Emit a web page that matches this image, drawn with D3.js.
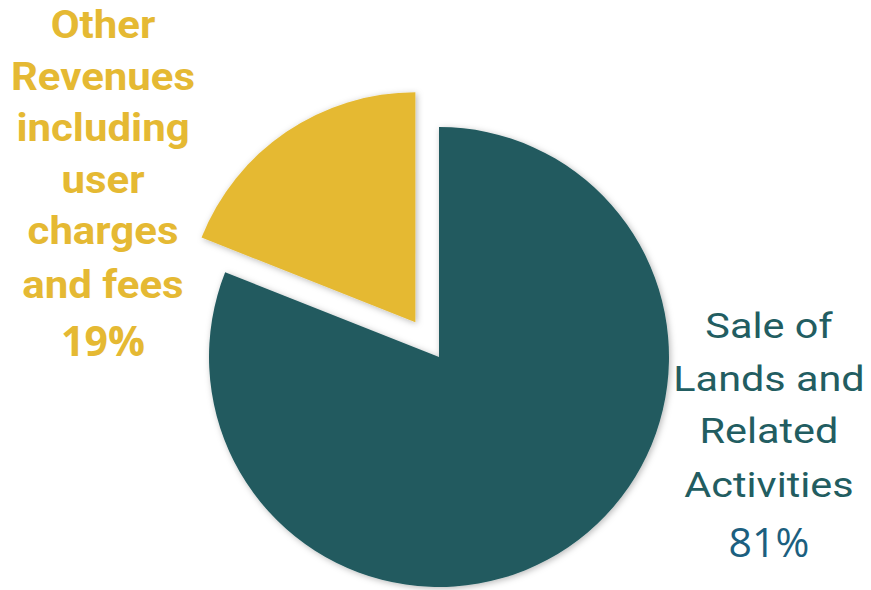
<!DOCTYPE html>
<html>
<head>
<meta charset="utf-8">
<script src="https://cdn.jsdelivr.net/npm/d3@7"></script>
<style>
  html, body { margin: 0; padding: 0; background: #ffffff; }
  svg { display: block; }
</style>
</head>
<body>
<svg id="chart" width="871" height="590"></svg>
<script>
// Revenue shares
const categories = ["Sale of Lands and Related Activities", "Other Revenues including user charges and fees"];
const values = [81, 19];
const percentLabels = ["81%", "19%"];
const labelLines = [
  ["Sale of", "Lands and", "Related", "Activities"],
  ["Other", "Revenues", "including", "user", "charges", "and fees"]
];
const colors = ["#215a5f", "#e5b933"];
const textColors = ["#225d61", "#e5b933"];
const percentColors = ["#1c5f7f", "#e5b933"];

const svg = d3.select("#chart");
const cx = 439, cy = 357, radius = 230, explode = 42;

const defs = svg.append("defs");
const f = defs.append("filter").attr("id", "shadow")
  .attr("x", "-20%").attr("y", "-20%").attr("width", "140%").attr("height", "140%");
f.append("feDropShadow").attr("dx", 1.5).attr("dy", 1.5).attr("stdDeviation", 3)
  .attr("flood-color", "#000").attr("flood-opacity", 0.28);

const pie = d3.pie().sort(null).value(d => d)(values);
const arc = d3.arc().innerRadius(0).outerRadius(radius);

const g = svg.append("g").attr("transform", `translate(${cx},${cy})`);
g.selectAll("path").data(pie).join("path")
  .attr("d", arc)
  .attr("fill", (d, i) => colors[i])
  .attr("filter", "url(#shadow)")
  .attr("transform", (d, i) => {
    if (i !== 1) return null;
    const a = (d.startAngle + d.endAngle) / 2;
    return `translate(${Math.sin(a) * explode},${-Math.cos(a) * explode})`;
  });

// Category labels are set slightly wide
const stretch = (x, s) => `translate(${x},0) scale(${s},1) translate(${-x},0)`;

// Right label (teal slice)
const right = svg.append("text").attr("text-anchor", "middle")
  .attr("transform", stretch(769, 1.15))
  .attr("font-family", "Roboto, sans-serif").attr("font-size", 36)
  .attr("fill", textColors[0]);
const rightBase = [338, 391, 443, 497];
labelLines[0].forEach((t, k) => right.append("tspan").attr("x", 769).attr("y", rightBase[k]).text(t));
svg.append("text").attr("text-anchor", "middle").attr("x", 769).attr("y", 557)
  .attr("font-family", "'Open Sans', sans-serif").attr("font-size", 41)
  .attr("fill", percentColors[0]).text(percentLabels[0]);

// Left label (yellow slice)
const left = svg.append("text").attr("text-anchor", "middle")
  .attr("transform", stretch(103, 1.09))
  .attr("font-family", "Roboto, sans-serif").attr("font-weight", "bold").attr("font-size", 38.5)
  .attr("fill", textColors[1]);
const leftBase = [38, 90, 141, 193, 244, 298];
labelLines[1].forEach((t, k) => left.append("tspan").attr("x", 103).attr("y", leftBase[k]).text(t));
svg.append("text").attr("text-anchor", "middle").attr("x", 103).attr("y", 356)
  .attr("font-family", "'Open Sans', sans-serif").attr("font-weight", "bold").attr("font-size", 41)
  .attr("fill", percentColors[1]).text(percentLabels[1]);
</script>
</body>
</html>
